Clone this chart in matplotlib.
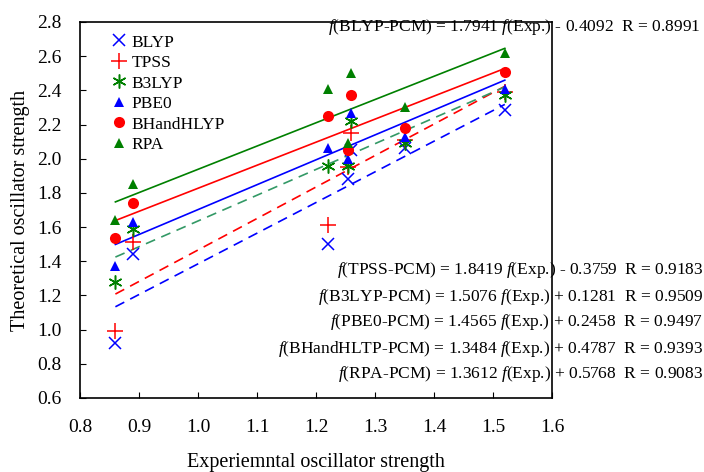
import matplotlib
matplotlib.use("Agg")
import matplotlib.pyplot as plt
import numpy as np

plt.rcParams["font.family"] = ["Liberation Serif", "DejaVu Serif"]
plt.rcParams["mathtext.fontset"] = "custom"
plt.rcParams["mathtext.it"] = "Liberation Serif:italic"
plt.rcParams["mathtext.rm"] = "Liberation Serif"

# experimental oscillator strengths (x) and theoretical values per functional
exp_f = [0.86, 0.89, 1.22, 1.255, 1.26, 1.35, 1.52]
blyp = [0.92, 1.44, 1.50, 1.88, 2.05, 2.06, 2.285]
tpss = [0.99, 1.51, 1.61, 1.95, 2.15, 2.11, 2.39]
b3lyp = [1.28, 1.59, 1.96, 1.96, 2.22, 2.09, 2.37]
pbe0 = [1.37, 1.63, 2.06, 2.00, 2.27, 2.13, 2.41]
bhandhlyp = [1.535, 1.74, 2.25, 2.05, 2.37, 2.18, 2.51]
rpa = [1.64, 1.85, 2.41, 2.09, 2.50, 2.30, 2.62]

# fit coefficients (slope, intercept, R) as printed on the chart
fit_names = ["BLYP", "TPSS", "B3LYP", "PBE0", "BHandHLTP", "RPA"]
fit_slope = [1.7941, 1.8419, 1.5076, 1.4565, 1.3484, 1.3612]
fit_icept = [-0.4092, -0.3759, 0.1281, 0.2458, 0.4787, 0.5768]
fit_r = [0.8991, 0.9183, 0.9509, 0.9497, 0.9393, 0.9083]

series = [
    ("BLYP", blyp, dict(marker="x", color="#0000FF", ms=9, mew=1.1), dict(color="#0000FF", ls=(0, (6, 4)))),
    ("TPSS", tpss, dict(marker="+", color="#FF0000", ms=11, mew=1.1), dict(color="#FF0000", ls=(0, (6, 4)))),
    ("B3LYP", b3lyp, dict(marker=(6, 2, 0), color="#008000", ms=10, mew=1.1), dict(color="#339966", ls=(0, (6, 4)))),
    ("PBE0", pbe0, dict(marker="^", color="#0000FF", ms=7, mew=0), dict(color="#0000FF", ls="-")),
    ("BHandHLYP", bhandhlyp, dict(marker="o", color="#FF0000", ms=8, mew=0), dict(color="#FF0000", ls="-")),
    ("RPA", rpa, dict(marker="^", color="#008000", ms=7, mew=0), dict(color="#008000", ls="-")),
]

fig = plt.figure(figsize=(7.04, 4.72), dpi=100)
ax = fig.add_axes([80 / 704, 1 - 398 / 472, 472 / 704, 376 / 472])

xl = np.array([min(exp_f), max(exp_f)])
for (name, ys, mk, ln), a, b in zip(series, fit_slope, fit_icept):
    ax.plot(xl, a * xl + b, lw=1.2, **ln)
for name, ys, mk, ln in series:
    ax.plot(exp_f, ys, ls="none", label=name, **mk)

ax.set_xlim(0.8, 1.6)
ax.set_ylim(0.6, 2.8)
ax.set_xticks(np.arange(0.8, 1.61, 0.1))
ax.set_yticks(np.arange(0.6, 2.81, 0.2))
ax.xaxis.set_major_formatter(plt.FormatStrFormatter("%.1f"))
ax.yaxis.set_major_formatter(plt.FormatStrFormatter("%.1f"))
ax.tick_params(direction="in", length=4, labelsize=14)
ax.tick_params(axis="x", pad=15)
ax.tick_params(axis="y", pad=13)
for s in ax.spines.values():
    s.set_linewidth(1.2)
ax.set_xlabel("Experiemntal oscillator strength", fontsize=14.5, labelpad=12)
ax.set_ylabel("Theoretical oscillator strength", fontsize=14.5, labelpad=5)

leg = ax.legend(loc="upper left", frameon=False, fontsize=12.5, handlelength=1.0,
                handletextpad=0.2, labelspacing=0.25, borderaxespad=0.4,
                bbox_to_anchor=(0.035, 1.004))

def eq_text(i):
    sign = "-" if fit_icept[i] < 0 else "+"
    return (r"$\mathit{f}$(%s-PCM) = %.4f $\mathit{f}$(Exp.) %s %.4f  R = %.4f"
            % (fit_names[i], fit_slope[i], sign, abs(fit_icept[i]), fit_r[i]))

fig.text(700 / 704, 1 - 27 / 472, eq_text(0), ha="right", va="center", fontsize=12.5)
for i, yp in zip(range(1, 6), [270, 297, 322, 349, 374]):
    fig.text(703 / 704, 1 - yp / 472, eq_text(i), ha="right", va="center", fontsize=12.5)

fig.savefig("out.png", dpi=100)
